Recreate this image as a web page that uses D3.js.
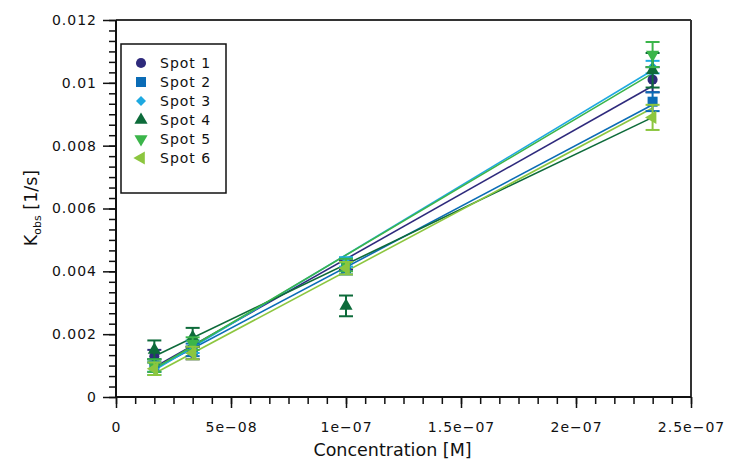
<!DOCTYPE html>
<html>
<head>
<meta charset="utf-8">
<script src="https://cdn.jsdelivr.net/npm/d3@7"></script>
<style>
  body { margin: 0; background: #fff; }
  svg text { font-family: "DejaVu Sans", sans-serif; fill: #111; }
</style>
</head>
<body>
<svg id="chart" width="738" height="461"></svg>
<script>
// data
var spotNames = ["Spot 1", "Spot 2", "Spot 3", "Spot 4", "Spot 5", "Spot 6"];
var spotColors = ["#2e2a7c", "#0b6cb6", "#1ea9e1", "#0d6b3a", "#3bb54a", "#8cc63f"];
var concentrations = [1.667e-8, 3.333e-8, 1e-7, 2.333e-7];
var spot1 = [0.0013, 0.0014, 0.0042, 0.0101];
var spot2 = [0.0010, 0.0015, 0.0041, 0.0094];
var spot3 = [0.0009, 0.0016, 0.0043, 0.0105];
var spot4 = [0.0015, 0.0019, 0.0029, 0.0104];
var spot5 = [0.0010, 0.0017, 0.0042, 0.0109];
var spot6 = [0.0009, 0.0014, 0.0041, 0.0089];
var err1 = [0.0002, 0.0002, 0.00015, 0.0004];
var err2 = [0.0002, 0.0002, 0.0002, 0.0003];
var err3 = [0.0002, 0.0002, 0.00015, 0.0002];
var err4 = [0.0003, 0.0003, 0.00033, 0.00055];
var err5 = [0.0002, 0.0002, 0.0002, 0.0004];
var err6 = [0.0002, 0.0002, 0.0002, 0.0004];
// fitted line values at first and last concentration
var fitStart = [0.00095, 0.00090, 0.00085, 0.00130, 0.00090, 0.00075];
var fitEnd = [0.0099, 0.0093, 0.0104, 0.0089, 0.0103, 0.0092];
var xTicks = [0, 5e-8, 1e-7, 1.5e-7, 2e-7, 2.5e-7];
var xTickLabels = ["0", "5e\u221208", "1e\u221207", "1.5e\u221207", "2e\u221207", "2.5e\u221207"];
var yTicks = [0, 0.002, 0.004, 0.006, 0.008, 0.01, 0.012];
var yTickLabels = ["0", "0.002", "0.004", "0.006", "0.008", "0.01", "0.012"];

var values = [spot1, spot2, spot3, spot4, spot5, spot6];
var errors = [err1, err2, err3, err4, err5, err6];

var svg = d3.select("#chart");
var pLeft = 116, pRight = 691, pTop = 20, pBottom = 397;

var x = d3.scaleLinear().domain([0, 2.5e-7]).range([pLeft, pRight]);
var y = d3.scaleLinear().domain([0, 0.012]).range([pBottom, pTop]);

// frame top and right
svg.append("line").attr("x1", pLeft).attr("x2", pRight).attr("y1", pTop).attr("y2", pTop)
    .attr("stroke", "#333").attr("stroke-width", 2);
svg.append("line").attr("x1", pRight).attr("x2", pRight).attr("y1", pTop).attr("y2", pBottom)
    .attr("stroke", "#333").attr("stroke-width", 2);

// minor ticks
var xMinor = d3.range(0, 31).map(function(i){ return i * 2.5e-7 / 30; });
var yMinor = d3.range(0, 37).map(function(i){ return i * 0.012 / 36; });

var gx = svg.append("g").attr("transform", "translate(0," + pBottom + ")");
gx.call(d3.axisBottom(x).tickValues(xMinor).tickSize(7).tickFormat(""));
gx.select(".domain").remove();
var gx2 = svg.append("g").attr("transform", "translate(0," + pBottom + ")");
gx2.call(d3.axisBottom(x).tickValues(xTicks).tickSize(11).tickPadding(14)
    .tickFormat(function(d, i){ return xTickLabels[i]; }));
gx2.select(".domain").attr("d", "M" + pLeft + ",0H" + pRight);

var gy = svg.append("g").attr("transform", "translate(" + pLeft + ",0)");
gy.call(d3.axisLeft(y).tickValues(yMinor).tickSize(7).tickFormat(""));
gy.select(".domain").remove();
var gy2 = svg.append("g").attr("transform", "translate(" + pLeft + ",0)");
gy2.call(d3.axisLeft(y).tickValues(yTicks).tickSize(13).tickPadding(6)
    .tickFormat(function(d, i){ return yTickLabels[i]; }));
gy2.select(".domain").attr("d", "M0," + pBottom + "V" + pTop);

svg.selectAll(".tick line").attr("stroke", "#111").attr("stroke-width", 1.5);
svg.selectAll(".domain").attr("stroke", "#111").attr("stroke-width", 2);
svg.selectAll(".tick text").style("font-family", "DejaVu Sans").style("font-size", "14px")
    .style("letter-spacing", "1px").attr("fill", "#111");

// axis titles
svg.append("text").attr("x", (pLeft + pRight) / 2 - 11).attr("y", 456)
    .attr("text-anchor", "middle").style("font-size", "17.5px").text("Concentration [M]");
var yl = svg.append("text").attr("transform", "translate(37,208) rotate(-90)")
    .attr("text-anchor", "middle").style("font-size", "17.5px");
yl.append("tspan").text("K");
yl.append("tspan").style("font-size", "11px").attr("dy", 4).text("obs");
yl.append("tspan").attr("dy", -4).text(" [1/s]");

// symbols
var shapes = [
  d3.symbol().type(d3.symbolCircle).size(80),
  d3.symbol().type(d3.symbolSquare).size(100),
  d3.symbol().type(d3.symbolSquare).size(50),
  d3.symbol().type(d3.symbolTriangle).size(75),
  d3.symbol().type(d3.symbolTriangle).size(75),
  d3.symbol().type(d3.symbolTriangle).size(75)
];
var rotations = [0, 0, 45, 0, 180, -90];

// fit lines
spotNames.forEach(function(name, s){
  svg.append("line")
    .attr("x1", x(concentrations[0])).attr("y1", y(fitStart[s]))
    .attr("x2", x(concentrations[concentrations.length - 1])).attr("y2", y(fitEnd[s]))
    .attr("stroke", spotColors[s]).attr("stroke-width", 1.6);
});

// points with error bars
spotNames.forEach(function(name, s){
  var g = svg.append("g");
  var pts = concentrations.map(function(c, i){ return {c: c, v: values[s][i], e: errors[s][i]}; });
  var eb = g.selectAll(".eb").data(pts).enter().append("g").attr("stroke", spotColors[s]).attr("stroke-width", 2);
  eb.append("line").attr("x1", function(d){ return x(d.c); }).attr("x2", function(d){ return x(d.c); })
    .attr("y1", function(d){ return y(d.v - d.e); }).attr("y2", function(d){ return y(d.v + d.e); });
  eb.append("line").attr("x1", function(d){ return x(d.c) - 7; }).attr("x2", function(d){ return x(d.c) + 7; })
    .attr("y1", function(d){ return y(d.v - d.e); }).attr("y2", function(d){ return y(d.v - d.e); });
  eb.append("line").attr("x1", function(d){ return x(d.c) - 7; }).attr("x2", function(d){ return x(d.c) + 7; })
    .attr("y1", function(d){ return y(d.v + d.e); }).attr("y2", function(d){ return y(d.v + d.e); });
  g.selectAll(".pt").data(pts).enter().append("path")
    .attr("d", shapes[s])
    .attr("fill", spotColors[s])
    .attr("transform", function(d){ return "translate(" + x(d.c) + "," + y(d.v) + ") rotate(" + rotations[s] + ")"; });
});

// legend
var lg = svg.append("g");
lg.append("rect").attr("x", 121).attr("y", 44).attr("width", 105).attr("height", 149)
  .attr("fill", "#fff").attr("stroke", "#111").attr("stroke-width", 1.5);
spotNames.forEach(function(name, s){
  var yy = 63 + s * 19;
  lg.append("path").attr("d", shapes[s]).attr("fill", spotColors[s])
    .attr("transform", "translate(141," + yy + ") rotate(" + rotations[s] + ")");
  lg.append("text").attr("x", 160).attr("y", yy + 5).style("font-size", "14px")
    .style("letter-spacing", "1px").text(name);
});
</script>
</body>
</html>
